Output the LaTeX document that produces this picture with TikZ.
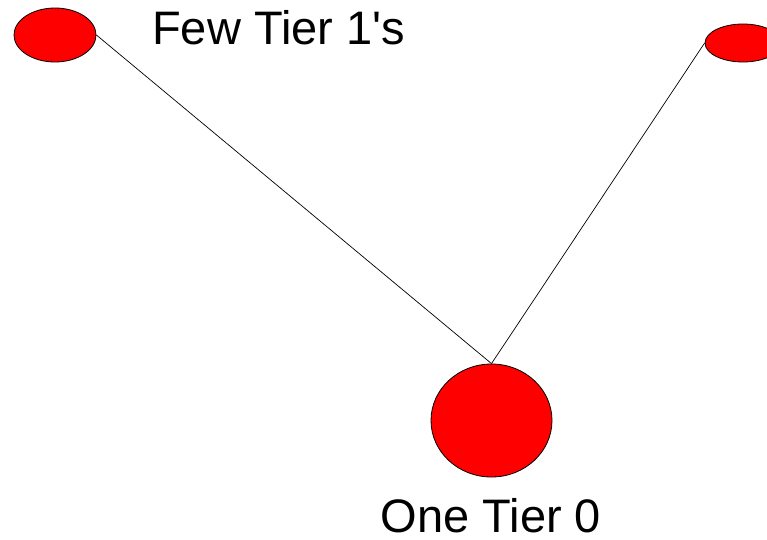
\documentclass[tikz,border=0pt]{standalone}
\usepackage{fontspec}
\setmainfont{Liberation Sans}
\usepackage{tikz}
\usetikzlibrary{positioning, shapes.geometric}

\begin{document}
\begin{tikzpicture}[
      x=1pt, y=-1pt,
      tier/.style={ellipse, draw=black, fill=red, line width=0.8pt, inner sep=0pt},
      label text/.style={font=\fontsize{47}{50}\selectfont, inner sep=0pt},
      link/.style={draw=black, line width=0.7pt}
    ]
      \useasboundingbox (0,0) rectangle (767,539);

      \node[tier, minimum width=82pt, minimum height=54pt] (tone) at (55,35) {};
      \node[tier, minimum width=76pt, minimum height=38pt] (ttwo) at (743,43) {};
      \node[tier, minimum width=121pt, minimum height=113pt] (tzero) at (491.5,420.5) {};

      \node[label text, anchor=base west] (few) at (152,44) {Few Tier 1\textquotesingle s};
      \node[label text, anchor=base] (one) at (491,532) {One Tier 0};

      \draw[link] (tzero.north) -- (tone.east);
      \draw[link] (tzero.north) -- (ttwo.west);
    \end{tikzpicture}
\end{document}
